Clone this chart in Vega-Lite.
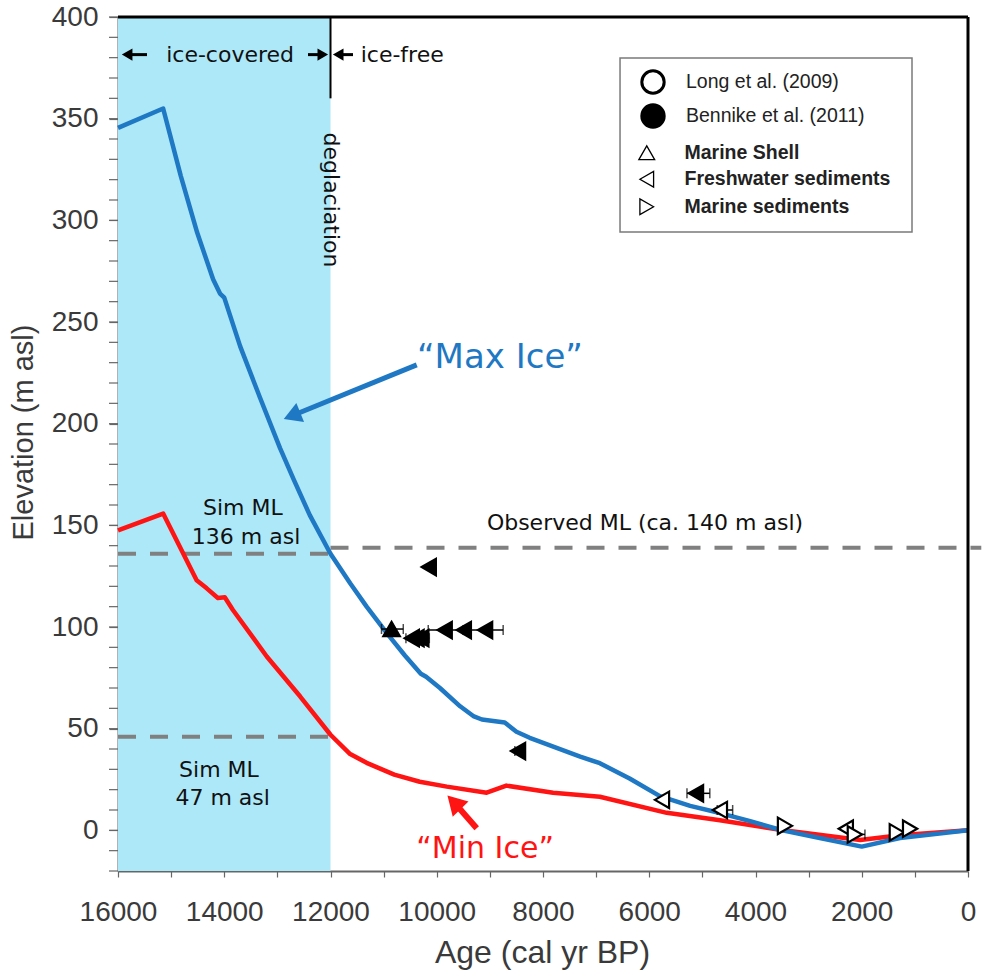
{
  "$schema": "https://vega.github.io/schema/vega-lite/v6.json",
  "width": 850,
  "height": 854,
  "autosize": {"type": "none"},
  "padding": {"left": 118, "top": 17, "right": 14, "bottom": 103},
  "background": "white",
  "config": {"view": {"stroke": null}, "font": "Liberation Sans", "axis": {"grid": false, "labelOverlap": false}},
  "datasets": {
    "one": [{}],
    "icecover": [{"start": 16000, "end": 12000}],
    "legendbox": [{"left": 6550, "right": 1054, "top": 379.8, "bottom": 294.3}],
    "yticks": [{"t": -20}, {"t": -10}, {"t": 0}, {"t": 10}, {"t": 20}, {"t": 30}, {"t": 40}, {"t": 50}, {"t": 60}, {"t": 70}, {"t": 80}, {"t": 90}, {"t": 100}, {"t": 110}, {"t": 120}, {"t": 130}, {"t": 140}, {"t": 150}, {"t": 160}, {"t": 170}, {"t": 180}, {"t": 190}, {"t": 200}, {"t": 210}, {"t": 220}, {"t": 230}, {"t": 240}, {"t": 250}, {"t": 260}, {"t": 270}, {"t": 280}, {"t": 290}, {"t": 300}, {"t": 310}, {"t": 320}, {"t": 330}, {"t": 340}, {"t": 350}, {"t": 360}, {"t": 370}, {"t": 380}, {"t": 390}, {"t": 400}],
    "mlines": [
      {"from": 16000, "to": 12000, "level": 136},
      {"from": 12000, "to": -250, "level": 139},
      {"from": 16000, "to": 12000, "level": 46}
    ],
    "maxice": [
      {"age": 16000, "elev": 345.5}, {"age": 15150, "elev": 355}, {"age": 14820, "elev": 322},
      {"age": 14510, "elev": 294}, {"age": 14210, "elev": 271}, {"age": 14080, "elev": 264},
      {"age": 14000, "elev": 262}, {"age": 13700, "elev": 238}, {"age": 13330, "elev": 213},
      {"age": 12950, "elev": 188}, {"age": 12700, "elev": 173}, {"age": 12390, "elev": 155},
      {"age": 12000, "elev": 136}, {"age": 11630, "elev": 121.5}, {"age": 11320, "elev": 110},
      {"age": 10940, "elev": 97}, {"age": 10600, "elev": 86}, {"age": 10300, "elev": 77},
      {"age": 10200, "elev": 75.5}, {"age": 9940, "elev": 70}, {"age": 9560, "elev": 61},
      {"age": 9300, "elev": 56}, {"age": 9150, "elev": 54.5}, {"age": 8720, "elev": 53},
      {"age": 8500, "elev": 48.5}, {"age": 8250, "elev": 45.5}, {"age": 7300, "elev": 36.2},
      {"age": 6930, "elev": 33}, {"age": 6370, "elev": 25.5}, {"age": 5800, "elev": 16.8},
      {"age": 5230, "elev": 12}, {"age": 4670, "elev": 8.5}, {"age": 4100, "elev": 4.5},
      {"age": 3540, "elev": 0.3}, {"age": 2790, "elev": -3.8}, {"age": 2000, "elev": -8},
      {"age": 1280, "elev": -3.8}, {"age": 0, "elev": 0}
    ],
    "minice": [
      {"age": 16000, "elev": 147.5}, {"age": 15150, "elev": 155.8}, {"age": 14520, "elev": 123},
      {"age": 14330, "elev": 119}, {"age": 14120, "elev": 114.3}, {"age": 13990, "elev": 114.6},
      {"age": 13840, "elev": 108.5}, {"age": 13200, "elev": 85.5}, {"age": 12570, "elev": 65.8},
      {"age": 12000, "elev": 47}, {"age": 11630, "elev": 37.5}, {"age": 11320, "elev": 33.2},
      {"age": 10800, "elev": 27.4}, {"age": 10320, "elev": 23.9}, {"age": 9810, "elev": 21.5},
      {"age": 9060, "elev": 18.5}, {"age": 8690, "elev": 22}, {"age": 7810, "elev": 18.5},
      {"age": 6930, "elev": 16.5}, {"age": 5670, "elev": 8.6}, {"age": 4670, "elev": 5},
      {"age": 3540, "elev": 0.3}, {"age": 2030, "elev": -4.8}, {"age": 1280, "elev": -2.4},
      {"age": 0, "elev": 0}
    ],
    "samples": [
      {"age": 10150, "elev": 129.5, "source": "Bennike et al. (2011)", "material": "Freshwater sediments"},
      {"age": 10850, "elev": 99, "source": "Bennike et al. (2011)", "material": "Marine Shell", "lo": 11040, "hi": 10630},
      {"age": 10470, "elev": 94.5, "source": "Bennike et al. (2011)", "material": "Freshwater sediments", "lo": 10580, "hi": 10140},
      {"age": 10380, "elev": 94.5, "source": "Bennike et al. (2011)", "material": "Freshwater sediments"},
      {"age": 10290, "elev": 94.5, "source": "Bennike et al. (2011)", "material": "Freshwater sediments"},
      {"age": 9850, "elev": 98.5, "source": "Bennike et al. (2011)", "material": "Freshwater sediments", "lo": 10160, "hi": 9500},
      {"age": 9490, "elev": 98.5, "source": "Bennike et al. (2011)", "material": "Freshwater sediments"},
      {"age": 9090, "elev": 98.5, "source": "Bennike et al. (2011)", "material": "Freshwater sediments", "lo": 9500, "hi": 8750},
      {"age": 8470, "elev": 39, "source": "Bennike et al. (2011)", "material": "Freshwater sediments", "lo": 8530, "hi": 8400},
      {"age": 5120, "elev": 18.2, "source": "Bennike et al. (2011)", "material": "Freshwater sediments", "lo": 5290, "hi": 4860},
      {"age": 5760, "elev": 15, "source": "Long et al. (2009)", "material": "Freshwater sediments"},
      {"age": 4670, "elev": 10, "source": "Long et al. (2009)", "material": "Freshwater sediments", "lo": 4720, "hi": 4430},
      {"age": 3445, "elev": 2.2, "source": "Long et al. (2009)", "material": "Marine sediments"},
      {"age": 2300, "elev": 0.8, "source": "Long et al. (2009)", "material": "Freshwater sediments"},
      {"age": 2130, "elev": -2, "source": "Long et al. (2009)", "material": "Marine sediments", "lo": 2260, "hi": 1940},
      {"age": 1340, "elev": -1, "source": "Long et al. (2009)", "material": "Marine sediments"},
      {"age": 1090, "elev": 0.8, "source": "Long et al. (2009)", "material": "Marine sediments"}
    ],
    "notes": [
      {"label": "ice-covered", "age": 13890, "elev": 381.3},
      {"label": "ice-free", "age": 10650, "elev": 381.3},
      {"label": "Sim ML", "age": 13650, "elev": 158.5},
      {"label": "136 m asl", "age": 13590, "elev": 144.3},
      {"label": "Sim ML", "age": 14100, "elev": 29.7},
      {"label": "47 m asl", "age": 14030, "elev": 15.9},
      {"label": "Observed ML (ca. 140 m asl)", "age": 6080, "elev": 151.2}
    ],
    "vnotes": [{"label": "deglaciation", "age": 12000, "elev": 310}],
    "icearrows": [
      {"pointing": "left", "head": 15828, "tail": 15454, "elev": 381.5},
      {"pointing": "right", "head": 12145, "tail": 12424, "elev": 381.5},
      {"pointing": "left", "head": 11855, "tail": 11576, "elev": 381.5}
    ],
    "pointers": [
      {"label": "“Max Ice”", "age": 8810, "elev": 232.3, "fromAge": 10377, "fromElev": 228.9, "toAge": 12725, "toElev": 203.9},
      {"label": "“Min Ice”", "age": 9090, "elev": -9.3, "fromAge": 9248, "fromElev": 1.0, "toAge": 9675, "toElev": 13.8}
    ]
  },
  "layer": [
    {
      "data": {"name": "icecover"},
      "mark": {"type": "rect", "color": "#ade8f9"},
      "encoding": {
        "x": {"field": "start", "type": "quantitative", "title": "Age (cal yr BP)"},
        "x2": {"field": "end"}
      }
    },
    {
      "data": {"name": "mlines"},
      "mark": {"type": "rule", "color": "#808080", "strokeWidth": 4, "strokeDash": [18, 14]},
      "encoding": {
        "x": {"field": "from", "type": "quantitative", "title": "Age (cal yr BP)"},
        "x2": {"field": "to"},
        "y": {"field": "level", "type": "quantitative", "title": "Elevation (m asl)"}
      }
    },
    {
      "data": {"name": "one"},
      "mark": {"type": "rule", "color": "black", "strokeWidth": 2},
      "encoding": {
        "x": {"datum": 12000},
        "y": {"datum": 360},
        "y2": {"datum": 400}
      }
    },
    {
      "data": {"name": "yticks"},
      "mark": {"type": "tick", "orient": "horizontal", "size": 9, "thickness": 1.2, "color": "#666", "xOffset": -4.5, "opacity": 1},
      "encoding": {
        "x": {"datum": 16000},
        "y": {"field": "t", "type": "quantitative", "title": "Elevation (m asl)"}
      }
    },
    {
      "data": {"name": "legendbox"},
      "mark": {"type": "rect", "fill": "white", "stroke": "#7a7a7a", "strokeWidth": 1.5},
      "encoding": {
        "x": {"field": "left", "type": "quantitative", "title": "Age (cal yr BP)"},
        "x2": {"field": "right"},
        "y": {"field": "top", "type": "quantitative", "title": "Elevation (m asl)"},
        "y2": {"field": "bottom"}
      }
    },
    {
      "data": {"name": "minice"},
      "mark": {"type": "line", "color": "#ff1414", "strokeWidth": 4.5, "strokeJoin": "round"},
      "encoding": {
        "x": {"field": "age", "type": "quantitative", "title": "Age (cal yr BP)"},
        "y": {"field": "elev", "type": "quantitative", "title": "Elevation (m asl)"}
      }
    },
    {
      "data": {"name": "maxice"},
      "mark": {"type": "line", "color": "#1f78c3", "strokeWidth": 4.5, "strokeJoin": "round"},
      "encoding": {
        "x": {
          "field": "age", "type": "quantitative",
          "scale": {"domain": [0, 16000], "reverse": true, "nice": false, "zero": false},
          "axis": {
            "title": "Age (cal yr BP)",
            "values": [0,500,1000,1500,2000,2500,3000,3500,4000,4500,5000,5500,6000,6500,7000,7500,8000,8500,9000,9500,10000,10500,11000,11500,12000,12500,13000,13500,14000,14500,15000,15500,16000],
            "labelExpr": "datum.value % 2000 === 0 ? format(datum.value, 'd') : ''",
            "labelFont": "Liberation Sans", "labelFontSize": 28, "labelColor": "#3a3a3a",
            "labelFlush": false, "labelOverlap": false, "labelBaseline": "alphabetic", "labelPadding": 43,
            "tickSize": 6, "tickColor": "#666", "tickWidth": 1.2, "domainColor": "#666", "domainWidth": 2,
            "titleFont": "Liberation Sans", "titleFontSize": 32, "titleFontWeight": "normal", "titleColor": "#3a3a3a",
            "titleX": 424, "titleY": 91, "titleBaseline": "alphabetic", "titleAlign": "center"
          }
        },
        "y": {
          "field": "elev", "type": "quantitative",
          "scale": {"domain": [-20, 400], "nice": false, "zero": false},
          "axis": {
            "title": "Elevation (m asl)",
            "values": [0, 50, 100, 150, 200, 250, 300, 350, 400],
            "format": "d",
            "labelFont": "Liberation Sans", "labelFontSize": 28, "labelColor": "#3a3a3a",
            "labelOverlap": false, "labelPadding": 11, "labelBaseline": "middle",
            "tickSize": 9, "tickColor": "#666", "tickWidth": 1.2, "domainColor": "#666", "domainWidth": 2,
            "titleFont": "Liberation Sans", "titleFontSize": 29, "titleFontWeight": "normal", "titleColor": "#3a3a3a",
            "titleX": -95, "titleY": 415, "titleAngle": 270, "titleBaseline": "middle", "titleAlign": "center"
          }
        }
      }
    },
    {
      "data": {"name": "samples"},
      "transform": [{"filter": "isValid(datum.lo)"}],
      "mark": {"type": "errorbar", "ticks": true, "thickness": 1.5, "size": 10, "color": "black"},
      "encoding": {
        "x": {"field": "lo", "type": "quantitative", "title": "Age (cal yr BP)"},
        "x2": {"field": "hi"},
        "y": {"field": "elev", "type": "quantitative", "title": "Elevation (m asl)"}
      }
    },
    {
      "data": {"name": "samples"},
      "mark": {"type": "point", "filled": true, "stroke": "black", "strokeWidth": 2.2, "size": 270, "opacity": 1},
      "encoding": {
        "x": {"field": "age", "type": "quantitative", "title": "Age (cal yr BP)"},
        "y": {"field": "elev", "type": "quantitative", "title": "Elevation (m asl)"},
        "fill": {
          "field": "source", "type": "nominal",
          "scale": {"domain": ["Long et al. (2009)", "Bennike et al. (2011)"], "range": ["white", "black"]},
          "legend": {
            "title": null, "orient": "none", "legendX": 522, "legendY": 52,
            "padding": 0, "labelFont": "Liberation Sans", "labelFontSize": 19.5, "labelColor": "#222",
            "labelLimit": 400, "labelOffset": 20, "rowPadding": -2, "symbolSize": 500,
            "symbolType": "circle", "symbolStrokeColor": "black", "symbolStrokeWidth": 3
          }
        },
        "shape": {
          "field": "material", "type": "nominal",
          "scale": {
            "domain": ["Marine Shell", "Freshwater sediments", "Marine sediments"],
            "range": ["triangle-up", "triangle-left", "triangle-right"]
          },
          "legend": {
            "title": null, "orient": "none", "legendX": 519, "legendY": 126,
            "padding": 0, "labelFont": "Liberation Sans", "labelFontSize": 19.5, "labelFontWeight": "bold",
            "labelColor": "#222", "labelLimit": 400, "labelOffset": 28, "rowPadding": 5.5, "symbolSize": 250,
            "symbolStrokeColor": "black", "symbolStrokeWidth": 1.3, "symbolFillColor": "white"
          }
        }
      }
    },
    {
      "data": {"name": "pointers"},
      "transform": [{"filter": "datum.label === '“Max Ice”'"}],
      "layer": [
        {
          "mark": {"type": "rule", "color": "#1f78c3", "strokeWidth": 5},
          "encoding": {
            "x": {"field": "fromAge", "type": "quantitative", "title": "Age (cal yr BP)"},
            "y": {"field": "fromElev", "type": "quantitative", "title": "Elevation (m asl)"},
            "x2": {"field": "toAge"}, "y2": {"field": "toElev"}
          }
        },
        {
          "mark": {"type": "point", "shape": "triangle-up", "angle": 248, "size": 420, "filled": true, "color": "#1f78c3", "opacity": 1},
          "encoding": {
            "x": {"field": "toAge", "type": "quantitative", "title": "Age (cal yr BP)"},
            "y": {"field": "toElev", "type": "quantitative", "title": "Elevation (m asl)"}
          }
        },
        {
          "mark": {"type": "text", "font": "DejaVu Sans", "fontSize": 34, "color": "#1f78c3", "align": "center", "baseline": "middle"},
          "encoding": {
            "x": {"field": "age", "type": "quantitative", "title": "Age (cal yr BP)"},
            "y": {"field": "elev", "type": "quantitative", "title": "Elevation (m asl)"},
            "text": {"field": "label"}
          }
        }
      ]
    },
    {
      "data": {"name": "pointers"},
      "transform": [{"filter": "datum.label === '“Min Ice”'"}],
      "layer": [
        {
          "mark": {"type": "rule", "color": "#ff1414", "strokeWidth": 6},
          "encoding": {
            "x": {"field": "fromAge", "type": "quantitative", "title": "Age (cal yr BP)"},
            "y": {"field": "fromElev", "type": "quantitative", "title": "Elevation (m asl)"},
            "x2": {"field": "toAge"}, "y2": {"field": "toElev"}
          }
        },
        {
          "mark": {"type": "point", "shape": "triangle-up", "angle": 316, "size": 480, "filled": true, "color": "#ff1414", "opacity": 1},
          "encoding": {
            "x": {"field": "toAge", "type": "quantitative", "title": "Age (cal yr BP)"},
            "y": {"field": "toElev", "type": "quantitative", "title": "Elevation (m asl)"}
          }
        },
        {
          "mark": {"type": "text", "font": "DejaVu Sans", "fontSize": 30, "color": "#ff1414", "align": "center", "baseline": "middle"},
          "encoding": {
            "x": {"field": "age", "type": "quantitative", "title": "Age (cal yr BP)"},
            "y": {"field": "elev", "type": "quantitative", "title": "Elevation (m asl)"},
            "text": {"field": "label"}
          }
        }
      ]
    },
    {
      "data": {"name": "notes"},
      "mark": {"type": "text", "font": "DejaVu Sans", "fontSize": 22, "color": "#111", "align": "center", "baseline": "middle"},
      "encoding": {
        "x": {"field": "age", "type": "quantitative", "title": "Age (cal yr BP)"},
        "y": {"field": "elev", "type": "quantitative", "title": "Elevation (m asl)"},
        "text": {"field": "label"}
      }
    },
    {
      "data": {"name": "vnotes"},
      "mark": {"type": "text", "font": "DejaVu Sans", "fontSize": 22, "color": "#111", "align": "center", "baseline": "middle", "angle": 90},
      "encoding": {
        "x": {"field": "age", "type": "quantitative", "title": "Age (cal yr BP)"},
        "y": {"field": "elev", "type": "quantitative", "title": "Elevation (m asl)"},
        "text": {"field": "label"}
      }
    },
    {
      "data": {"name": "icearrows"},
      "mark": {"type": "rule", "color": "black", "strokeWidth": 3},
      "encoding": {
        "x": {"field": "head", "type": "quantitative", "title": "Age (cal yr BP)"},
        "x2": {"field": "tail"},
        "y": {"field": "elev", "type": "quantitative", "title": "Elevation (m asl)"}
      }
    },
    {
      "data": {"name": "icearrows"},
      "transform": [{"filter": "datum.pointing === 'left'"}],
      "mark": {"type": "point", "shape": "triangle-left", "size": 150, "filled": true, "color": "black", "opacity": 1},
      "encoding": {
        "x": {"field": "head", "type": "quantitative", "title": "Age (cal yr BP)"},
        "y": {"field": "elev", "type": "quantitative", "title": "Elevation (m asl)"}
      }
    },
    {
      "data": {"name": "icearrows"},
      "transform": [{"filter": "datum.pointing === 'right'"}],
      "mark": {"type": "point", "shape": "triangle-right", "size": 150, "filled": true, "color": "black", "opacity": 1},
      "encoding": {
        "x": {"field": "head", "type": "quantitative", "title": "Age (cal yr BP)"},
        "y": {"field": "elev", "type": "quantitative", "title": "Elevation (m asl)"}
      }
    },
    {
      "data": {"name": "one"},
      "mark": {"type": "rule", "color": "black", "strokeWidth": 3},
      "encoding": {"y": {"datum": 400}}
    },
    {
      "data": {"name": "one"},
      "mark": {"type": "rule", "color": "black", "strokeWidth": 3},
      "encoding": {"x": {"datum": 0}}
    }
  ]
}
